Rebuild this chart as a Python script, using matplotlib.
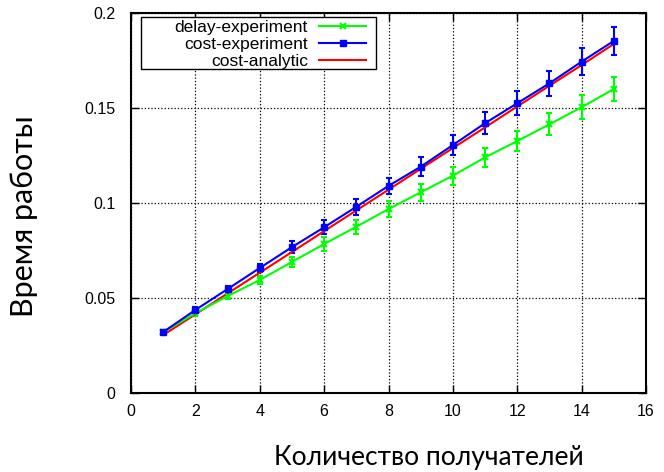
import matplotlib
matplotlib.use("Agg")
import matplotlib.pyplot as plt
from matplotlib.patches import Rectangle

# number of receivers
receivers = [1, 2, 3, 4, 5, 6, 7, 8, 9, 10, 11, 12, 13, 14, 15]

delay_exp = [0.0320, 0.0420, 0.0510, 0.0595, 0.0690, 0.0784, 0.0875, 0.0968,
             0.1056, 0.1144, 0.1240, 0.1326, 0.1414, 0.1504, 0.1600]
delay_err = [0.0010, 0.0013, 0.0017, 0.0022, 0.0028, 0.0035, 0.0036, 0.0041,
             0.0045, 0.0048, 0.0052, 0.0054, 0.0058, 0.0063, 0.0065]

cost_exp = [0.0321, 0.0437, 0.0547, 0.0658, 0.0768, 0.0872, 0.0980, 0.1090,
            0.1191, 0.1305, 0.1420, 0.1525, 0.1630, 0.1744, 0.1853]
cost_err = [0.0010, 0.0014, 0.0018, 0.0023, 0.0030, 0.0037, 0.0042, 0.0043,
            0.0051, 0.0053, 0.0057, 0.0062, 0.0066, 0.0070, 0.0075]

cost_analytic = [0.0305, 0.0414, 0.0524, 0.0633, 0.0742, 0.0852, 0.0961, 0.1070,
                 0.1180, 0.1289, 0.1398, 0.1508, 0.1617, 0.1726, 0.1837]

labels = ['delay-experiment', 'cost-experiment', 'cost-analytic']
xticks = [0, 2, 4, 6, 8, 10, 12, 14, 16]
yticks = [0, 0.05, 0.1, 0.15, 0.2]
ytick_labels = ['0', '0.05', '0.1', '0.15', '0.2']

plt.rcParams['font.family'] = ['Liberation Sans', 'DejaVu Sans']

W, H = 664, 472
fig = plt.figure(figsize=(W / 100, H / 100), dpi=100)
ax = fig.add_axes([131 / W, 1 - 393 / H, 515 / W, 380 / H])

delay = ax.errorbar(receivers, delay_exp, yerr=delay_err, color='#00ff00', lw=1.5,
                    marker='x', ms=5, mew=1.5, capsize=2.5, elinewidth=1.5,
                    capthick=1.5)
cost = ax.errorbar(receivers, cost_exp, yerr=cost_err, color='#0000ff', lw=1.5,
                   marker='s', ms=5, capsize=2.5, elinewidth=1.5, capthick=1.5)
analytic, = ax.plot(receivers, cost_analytic, color='#ff0000', lw=1.5)

ax.set_xlim(0, 16)
ax.set_ylim(0, 0.2)
ax.set_xticks(xticks)
ax.set_yticks(yticks)
ax.set_yticklabels(ytick_labels)
ax.tick_params(direction='in', top=True, right=True, length=6, width=1,
               labelsize=11.5)
ax.tick_params(axis='y', pad=11)
ax.tick_params(axis='x', pad=8)
ax.grid(True, color='black', linestyle=':', linewidth=0.9)
for s in ax.spines.values():
    s.set_linewidth(1.5)

# gnuplot-style key: white box drawn separately, text right-aligned before samples
key_box = Rectangle((141 / W, 1 - 69 / H), 235 / W, 52 / H, transform=fig.transFigure,
                    facecolor='white', edgecolor='black', lw=1.0, zorder=4)
ax.add_artist(key_box)
key_box.set_clip_on(False)
leg = ax.legend([delay[0], cost[0], analytic], labels,
                loc='upper right', bbox_to_anchor=(366 / W, 1 - 19.5 / H),
                bbox_transform=fig.transFigure, frameon=False,
                markerfirst=False, fontsize=12.5,
                handlelength=2.7, borderpad=0, labelspacing=0.12,
                borderaxespad=0, handletextpad=0.65)
leg.set_zorder(5)

fig.text(429 / W, 1 - 457 / H, 'Количество получателей', ha='center',
         va='center', fontsize=19, family=['Lato', 'DejaVu Sans'])
fig.text(24 / W, 1 - 216 / H, 'Время работы', ha='center', va='center',
         rotation=90, fontsize=22, family=['Lato', 'DejaVu Sans'])

fig.savefig('out.png', dpi=100)
